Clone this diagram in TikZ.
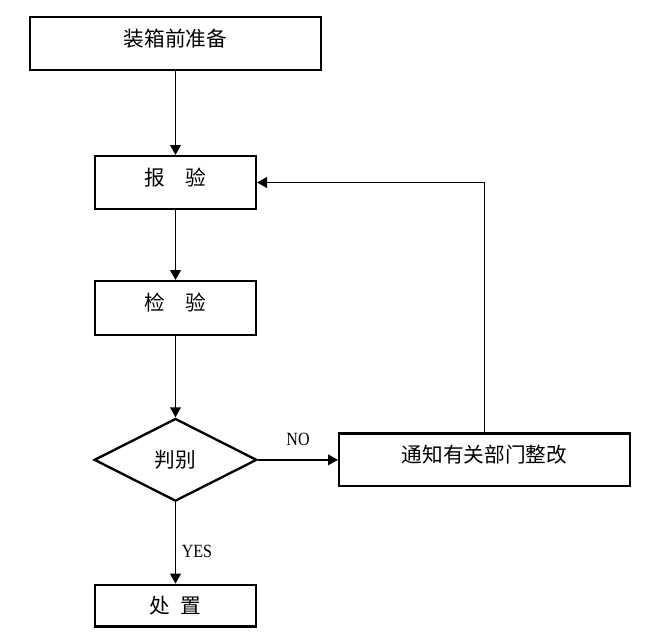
\documentclass[tikz,border=0pt]{standalone}
\usepackage{fontspec,graphicx}
\usetikzlibrary{arrows.meta,positioning,shapes.geometric}
\setmainfont{Liberation Serif}
\newfontfamily\cjk{Noto Sans CJK SC}
\newcommand{\narrowlbl}[1]{\scalebox{0.86}[1]{#1}}

\begin{document}
\begin{tikzpicture}[x=0.75pt, y=-0.75pt,
    box/.style={draw, line width=1.75pt, font=\cjk\fontsize{15.5}{18}\selectfont,
      minimum width=120.5pt, minimum height=39.5pt, inner sep=0pt},
    lifted/.style={text height=12pt, text depth=7.7pt},
    arr/.style={line width=1.4pt, -{Triangle[length=7.5pt, width=8pt]}},
    yn/.style={font=\fontsize{14}{16}\selectfont, inner sep=2pt}]
  \useasboundingbox (0,0) rectangle (653,633);

  \node[box, lifted, minimum width=218pt] (prep) at (175.5,43.5) {装箱前准备};
  \node[box, lifted, below=63pt of prep] (baoyan) {报\quad 验};
  \node[box, lifted, minimum height=40.25pt, below=52.5pt of baoyan] (jianyan) {检\quad 验};
  \node[box, diamond, minimum width=122pt, minimum height=62pt, below=61pt of jianyan] (panbie) {判别};
  \node[box, lifted, minimum width=218pt, right=60pt of panbie] (tongzhi) {通知有关部门整改};
  \node[box, minimum height=31.25pt, below=61pt of panbie] (chuzhi) {处\hspace{0.5em}置};

  \draw[arr] (prep) -- (baoyan);
  \draw[arr] (baoyan) -- (jianyan);
  \draw[arr] (jianyan) -- (panbie);
  \draw[arr] (panbie) -- node[yn, above=8pt] {\narrowlbl{NO}} (tongzhi);
  \draw[arr] (panbie) -- node[yn, right=2pt, pos=0.6] {\narrowlbl{YES}} (chuzhi);
  \draw[arr] (tongzhi.north) |- (baoyan.east);
\end{tikzpicture}
\end{document}
